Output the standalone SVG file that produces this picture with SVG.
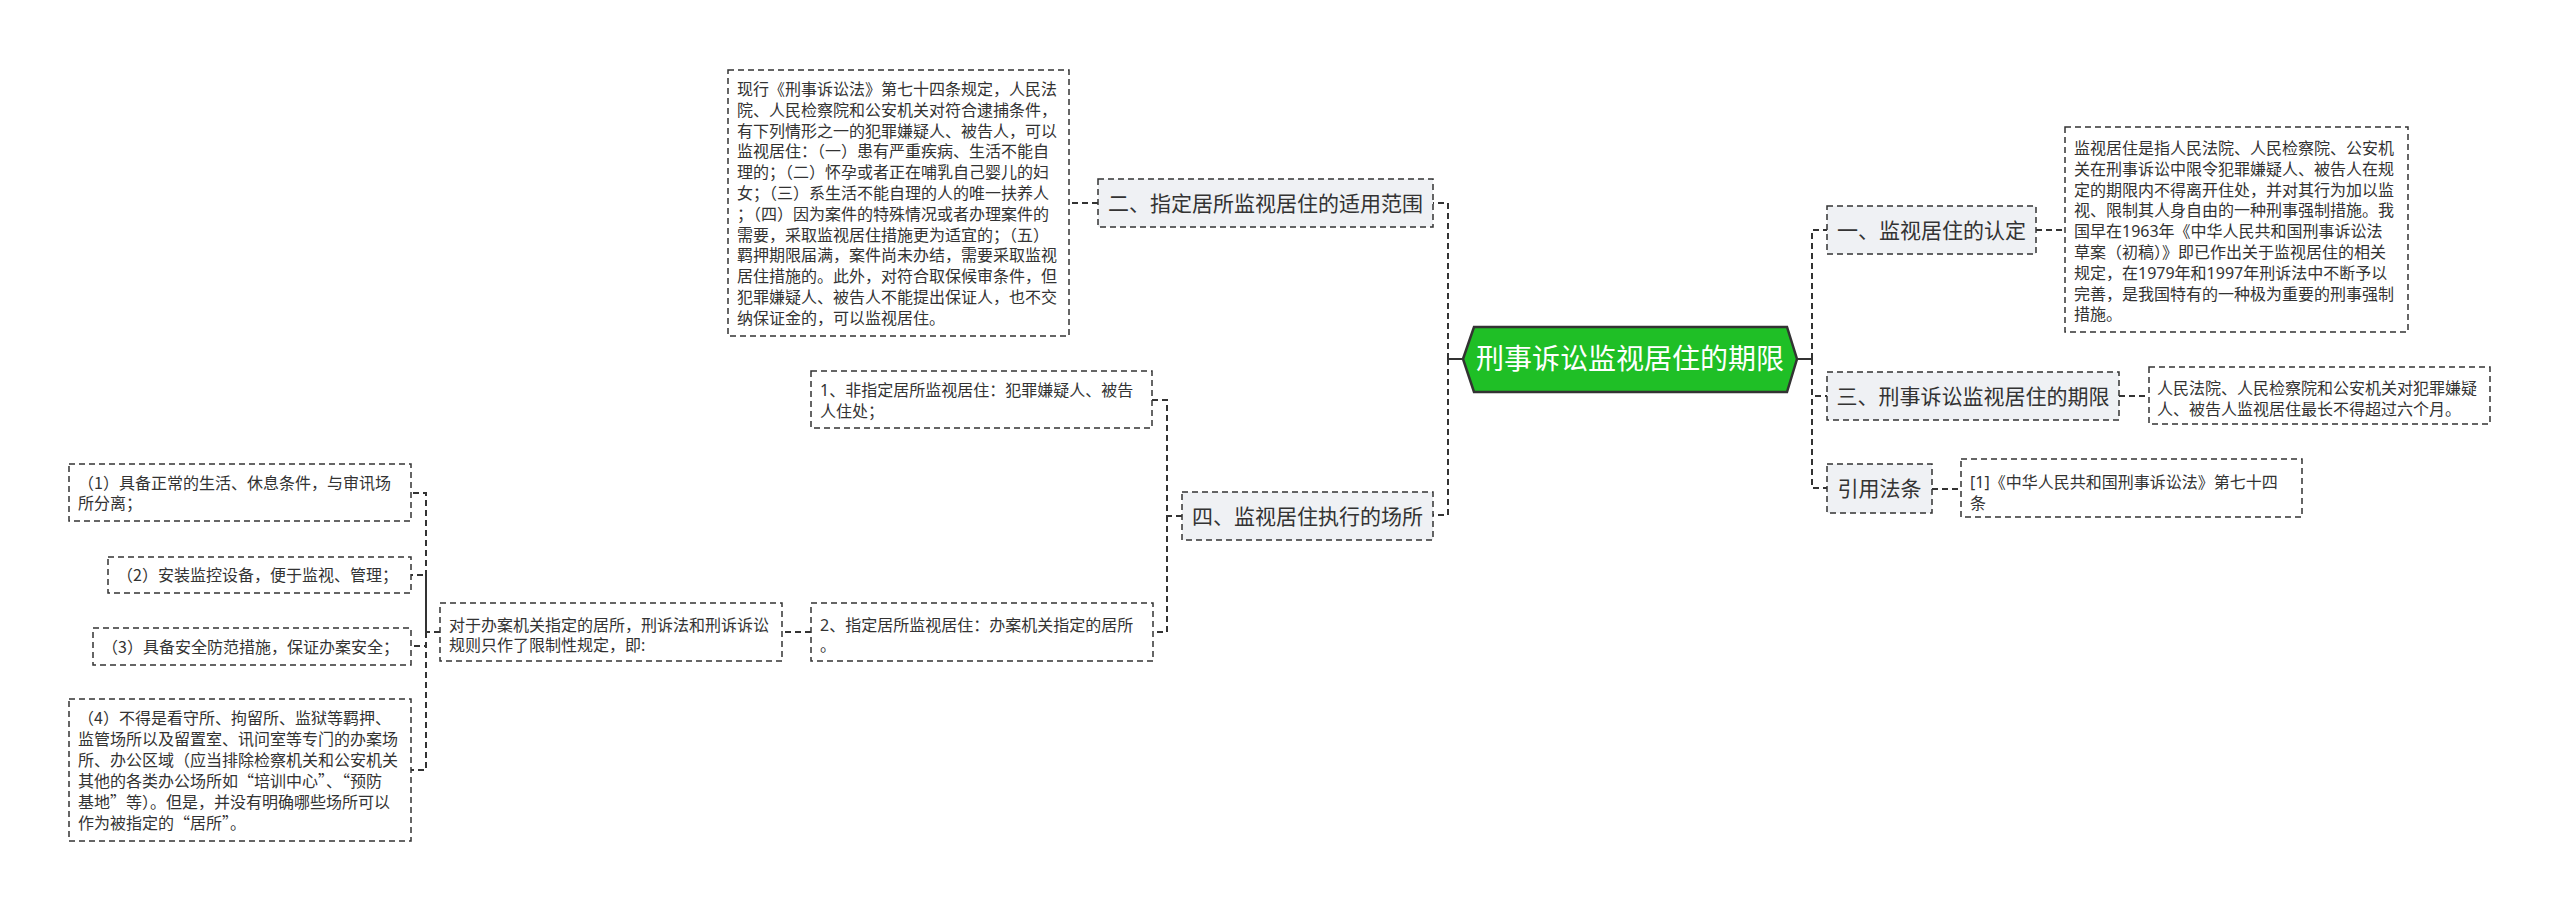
<svg xmlns="http://www.w3.org/2000/svg" width="2560" height="911" viewBox="0 0 2560 911">
<style>
text{font-family:"Noto Sans","Noto Sans CJK SC",sans-serif;fill:#333}
.d{font-size:16px}
.cj{font-family:"Noto Sans CJK SC",sans-serif}
.h{font-size:21px;text-anchor:middle}
.hb{fill:#eff1f4;stroke:#333;stroke-width:1.5;stroke-dasharray:6 4}
.db{fill:#fff;stroke:#333;stroke-width:1.5;stroke-dasharray:6 4}
.c{fill:none;stroke:#333;stroke-width:2;stroke-dasharray:6 4}
.s{fill:none;stroke:#333;stroke-width:2}
</style>
<rect width="2560" height="911" fill="#fff"/>
<g id="connectors">
<path class="s" d="M1463,359 H1448"/>
<path class="s" d="M1797,359 H1812"/>
<path class="c" d="M1448,359 V203 H1433"/>
<path class="c" d="M1448,359 V515 H1433"/>
<path class="c" d="M1812,359 V230 H1827"/>
<path class="c" d="M1812,359 V396 H1827"/>
<path class="c" d="M1812,359 V488 H1827"/>
<path class="c" d="M1098,203 H1069"/>
<path class="c" d="M2036,230 H2065"/>
<path class="c" d="M2119,396 H2149"/>
<path class="c" d="M1932,489 H1961"/>
<path class="c" d="M1182,516 H1167 V400 H1152"/>
<path class="c" d="M1167,516 V632 H1153"/>
<path class="c" d="M811,632 H782"/>
<path class="c" d="M440,632 H426 V493 H411"/>
<path class="c" d="M426,632 V575 H411"/>
<path class="c" d="M426,632 V646 H411"/>
<path class="c" d="M426,632 V770 H411"/>
</g>
<g id="root">
<polygon points="1463,359 1474,327 1787,327 1797,359 1787,392 1474,392" fill="#1fbf26" stroke="#333" stroke-width="2.5"/>
<text x="1630" y="369" style="font-size:28px;fill:#fff;text-anchor:middle">刑事诉讼监视居住的期限</text>
</g>
<g id="n2">
<rect class="hb" x="1098" y="179" width="335" height="48"/>
<text class="h" x="1265.5" y="210.5">二、指定居所监视居住的适用范围</text>
</g>
<g id="n2d">
<rect class="db" x="728" y="70" width="341" height="266"/>
<text class="d" x="737">
<tspan x="737" y="95">现行《刑事诉讼法》第七十四条规定，人民法</tspan>
<tspan x="737" y="115.8">院、人民检察院和公安机关对符合逮捕条件，</tspan>
<tspan x="737" y="136.6">有下列情形之一的犯罪嫌疑人、被告人，可以</tspan>
<tspan x="737" y="157.4">监视居住：（一）患有严重疾病、生活不能自</tspan>
<tspan x="737" y="178.2">理的；（二）怀孕或者正在哺乳自己婴儿的妇</tspan>
<tspan x="737" y="199">女；（三）系生活不能自理的人的唯一扶养人</tspan>
<tspan x="737" y="219.8">；（四）因为案件的特殊情况或者办理案件的</tspan>
<tspan x="737" y="240.6">需要，采取监视居住措施更为适宜的；（五）</tspan>
<tspan x="737" y="261.4">羁押期限届满，案件尚未办结，需要采取监视</tspan>
<tspan x="737" y="282.2">居住措施的。此外，对符合取保候审条件，但</tspan>
<tspan x="737" y="303">犯罪嫌疑人、被告人不能提出保证人，也不交</tspan>
<tspan x="737" y="323.8">纳保证金的，可以监视居住。</tspan>
</text>
</g>
<g id="n4">
<rect class="hb" x="1182" y="492" width="251" height="48"/>
<text class="h" x="1307.5" y="523.5">四、监视居住执行的场所</text>
</g>
<g id="n4a">
<rect class="db" x="811" y="371" width="341" height="57"/>
<text class="d"><tspan x="820" y="396">1、非指定居所监视居住：犯罪嫌疑人、被告</tspan><tspan x="820" y="417">人住处；</tspan></text>
</g>
<g id="n4b">
<rect class="db" x="811" y="603" width="342" height="58"/>
<text class="d"><tspan x="820" y="631">2、指定居所监视居住：办案机关指定的居所</tspan><tspan x="820" y="651">。</tspan></text>
</g>
<g id="n4b1">
<rect class="db" x="440" y="603" width="342" height="58"/>
<text class="d"><tspan x="449" y="631">对于办案机关指定的居所，刑诉法和刑诉诉讼</tspan><tspan x="449" y="651">规则只作了限制性规定，即:</tspan></text>
</g>
<g id="c1">
<rect class="db" x="69" y="464" width="342" height="57"/>
<text class="d cj"><tspan x="78" y="489">（1）具备正常的生活、休息条件，与审讯场</tspan><tspan x="78" y="509">所分离；</tspan></text>
</g>
<g id="c2">
<rect class="db" x="108" y="557" width="303" height="36"/>
<text class="d cj" x="117" y="581">（2）安装监控设备，便于监视、管理；</text>
</g>
<g id="c3">
<rect class="db" x="93" y="628" width="318" height="37"/>
<text class="d cj" x="102" y="652.5">（3）具备安全防范措施，保证办案安全；</text>
</g>
<g id="c4">
<rect class="db" x="69" y="699" width="342" height="142"/>
<text class="d cj">
<tspan x="78" y="724">（4）不得是看守所、拘留所、监狱等羁押、</tspan>
<tspan x="78" y="745">监管场所以及留置室、讯问室等专门的办案场</tspan>
<tspan x="78" y="766">所、办公区域（应当排除检察机关和公安机关</tspan>
<tspan x="78" y="787">其他的各类办公场所如“培训中心”、“预防</tspan>
<tspan x="78" y="808">基地”等）。但是，并没有明确哪些场所可以</tspan>
<tspan x="78" y="829">作为被指定的“居所”。</tspan>
</text>
</g>
<g id="n1">
<rect class="hb" x="1827" y="206" width="209" height="48"/>
<text class="h" x="1931.5" y="237.5">一、监视居住的认定</text>
</g>
<g id="n1d">
<rect class="db" x="2065" y="127" width="343" height="205"/>
<text class="d">
<tspan x="2074" y="154">监视居住是指人民法院、人民检察院、公安机</tspan>
<tspan x="2074" y="174.8">关在刑事诉讼中限令犯罪嫌疑人、被告人在规</tspan>
<tspan x="2074" y="195.6">定的期限内不得离开住处，并对其行为加以监</tspan>
<tspan x="2074" y="216.4">视、限制其人身自由的一种刑事强制措施。我</tspan>
<tspan x="2074" y="237.2">国早在1963年《中华人民共和国刑事诉讼法</tspan>
<tspan x="2074" y="258">草案（初稿）》即已作出关于监视居住的相关</tspan>
<tspan x="2074" y="278.8">规定，在1979年和1997年刑诉法中不断予以</tspan>
<tspan x="2074" y="299.6">完善，是我国特有的一种极为重要的刑事强制</tspan>
<tspan x="2074" y="320.4">措施。</tspan>
</text>
</g>
<g id="n3">
<rect class="hb" x="1827" y="372" width="292" height="48"/>
<text class="h" x="1973" y="403.5">三、刑事诉讼监视居住的期限</text>
</g>
<g id="n3d">
<rect class="db" x="2149" y="367" width="341" height="57"/>
<text class="d"><tspan x="2157" y="394">人民法院、人民检察院和公安机关对犯罪嫌疑</tspan><tspan x="2157" y="415">人、被告人监视居住最长不得超过六个月。</tspan></text>
</g>
<g id="n5">
<rect class="hb" x="1827" y="464" width="105" height="49"/>
<text class="h" x="1879.5" y="496">引用法条</text>
</g>
<g id="n5d">
<rect class="db" x="1961" y="459" width="341" height="58"/>
<text class="d"><tspan x="1970" y="488">[1]《中华人民共和国刑事诉讼法》第七十四</tspan><tspan x="1970" y="509">条</tspan></text>
</g>
</svg>
